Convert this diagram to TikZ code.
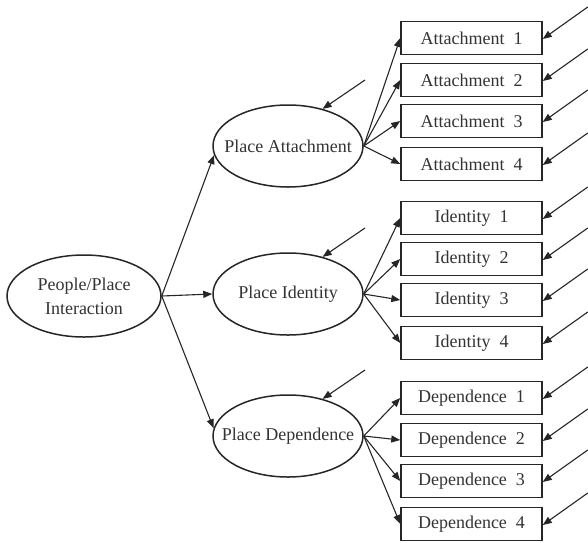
\documentclass[tikz,border=0pt]{standalone}
\usepackage{fontspec}
\setmainfont{Liberation Serif}
\usetikzlibrary{arrows.meta,shapes.geometric}
\begin{document}
\begin{tikzpicture}[x=1pt,y=-1pt,
  font=\fontsize{18}{24}\selectfont,
  construct/.style={ellipse, draw=black!85, line width=1.5pt, minimum width=150pt,
    minimum height=82pt, inner sep=-15pt, text=black!80, align=center},
  indicator/.style={rectangle, draw=black!85, line width=1.5pt, minimum width=141pt,
    minimum height=33pt, inner sep=0pt, text=black!80},
  arr/.style={draw=black!85, line width=1.1pt, -{Triangle[length=9pt,width=7pt]}}]
\useasboundingbox (0,0) rectangle (588,542);

% latent constructs
\node[construct, minimum width=154pt] (ppi) at (84,296) {People/Place\\Interaction};
\node[construct] (pa) at (288,146) {Place Attachment};
\node[construct] (pi) at (288,294) {Place Identity};
\node[construct] (pd) at (288,436) {Place Dependence};

% observed indicators
\foreach \i/\y in {1/38,2/80,3/121,4/164}
  \node[indicator] (a\i) at (471.5,\y) {Attachment\ \ \i};
\foreach \i/\y in {1/218,2/259,3/300,4/343}
  \node[indicator] (d\i) at (471.5,\y) {Identity\ \ \i};
\foreach \i/\y in {1/398,2/440,3/481,4/524}
  \node[indicator] (p\i) at (471.5,\y) {Dependence\ \ \i};

% structural paths
\draw[arr] (ppi.east) -- (pa.187);
\draw[arr] (ppi.east) -- (pi.west);
\draw[arr] (ppi.east) -- (pd.174);

% loadings
\foreach \i in {1,...,4} {
  \draw[arr] (pa.east) -- (a\i.west);
  \draw[arr] (pi.east) -- (d\i.west);
  \draw[arr] (pd.east) -- (p\i.west);
}

% disturbance terms on the constructs
\foreach \n in {pa,pi,pd} {
  \coordinate (e\n) at ([shift={(77,-66)}]\n.center);
  \draw[arr] (e\n) -- (\n.47);
}

% error terms on the indicators
\foreach \n in {a1,a2,a3,a4,d1,d2,d3,d4,p1,p2,p3,p4} {
  \coordinate (e\n) at ([shift={(45,-31)}]\n.east);
  \draw[arr] (e\n) -- ([yshift=-1pt]\n.east);
}
\end{tikzpicture}
\end{document}
